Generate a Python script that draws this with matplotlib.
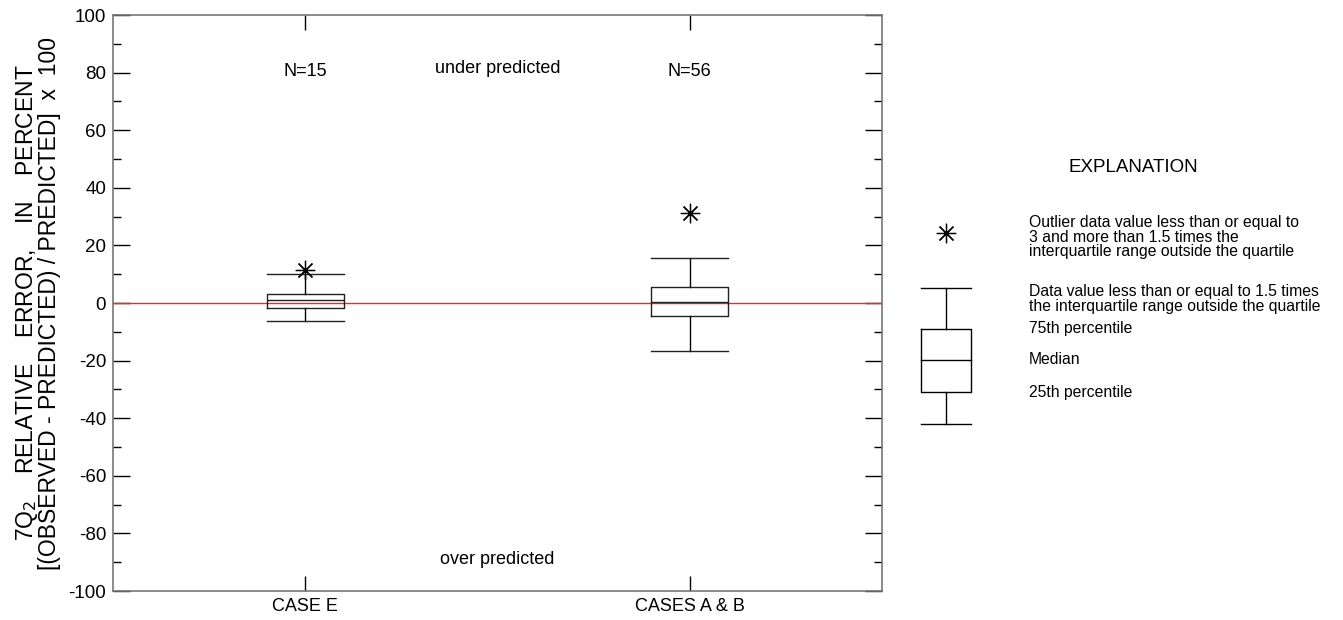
import matplotlib
matplotlib.use("Agg")
import matplotlib.pyplot as plt
from matplotlib.ticker import MultipleLocator

plt.rcParams['font.family'] = ['Liberation Sans', 'DejaVu Sans']
plt.rcParams['axes.unicode_minus'] = False

# ---- data ----
categories = ["CASE E", "CASES A & B"]
counts = [15, 56]
whisker_low = [-6.3, -16.6]
q1 = [-1.8, -4.4]
median = [1.2, 0.4]
q3 = [3.0, 5.6]
whisker_high = [10.0, 15.6]
outliers = [[11.4], [31.2]]

# explanation (legend) sketch box, expressed on the main y scale
leg_whislo, leg_q1, leg_med, leg_q3, leg_whishi = -42.5, -31.2, -20.1, -9.3, 5.0
leg_outlier = 24.0

W, H = 13.43, 6.2
fig = plt.figure(figsize=(W, H), dpi=100)
ax = fig.add_axes([113 / 1343, 29 / 620, 769 / 1343, 576 / 620])

positions = [1, 3]
stats = []
for i, c in enumerate(categories):
    stats.append(dict(label=c, whislo=whisker_low[i], q1=q1[i], med=median[i],
                      q3=q3[i], whishi=whisker_high[i], fliers=outliers[i]))

lc = '#222222'
ax.bxp(stats, positions=positions, widths=0.4, capwidths=0.4,
       boxprops=dict(color=lc, lw=1.0),
       whiskerprops=dict(color='black', lw=1.0),
       capprops=dict(color=lc, lw=1.0),
       medianprops=dict(color=lc, lw=1.0),
       flierprops=dict(marker=(8, 2, 0), markersize=14, markeredgecolor='black',
                       markerfacecolor='none', markeredgewidth=0.9, linestyle='none'),
       zorder=3)

ax.axhline(0, color='#ff2020', lw=1.0, zorder=2)

ax.set_xlim(0, 4)
ax.set_ylim(-100, 100)
ax.set_xticks(positions)
ax.set_xticklabels(categories, fontsize=13)
ax.yaxis.set_major_locator(MultipleLocator(20))
ax.yaxis.set_minor_locator(MultipleLocator(10))
ax.tick_params(axis='y', which='major', direction='in', length=12, width=1,
               labelsize=13.5, left=True, right=True, pad=5, colors='black')
ax.tick_params(axis='y', which='minor', direction='in', length=6, width=1,
               left=True, right=True)
ax.tick_params(axis='x', which='major', direction='in', length=11, width=1,
               top=True, bottom=True, pad=5)
for s in ax.spines.values():
    s.set_color('#777777')
    s.set_linewidth(1.2)

ax.set_ylabel("7Q$_2$    RELATIVE    ERROR,    IN    PERCENT\n[(OBSERVED - PREDICTED) / PREDICTED]  x  100",
              fontsize=16.5, linespacing=0.92, labelpad=5)

for i, n in enumerate(counts):
    ax.text(positions[i], 80.5, f"N={n}", ha='center', va='center', fontsize=13)
ax.text(2, 81.5, "under predicted", ha='center', va='center', fontsize=13)
ax.text(2, -89, "over predicted", ha='center', va='center', fontsize=13)

# ---- explanation panel ----
lax = fig.add_axes([0, 0, 1, 1], facecolor='none')
lax.set_xlim(0, W * 100)
lax.set_ylim(H * 100, 0)
lax.axis('off')

# same vertical scale as the main axes (pixel rows)
def ly(v):
    return 302 - v * 2.88

bx0, bx1, bxc = 921, 971, 946
lax.plot([bx0, bx1], [ly(leg_whishi)] * 2, color='black', lw=1)
lax.plot([bxc, bxc], [ly(leg_whishi), ly(leg_q3)], color='black', lw=1)
lax.plot([bx0, bx1, bx1, bx0, bx0],
         [ly(leg_q3), ly(leg_q3), ly(leg_q1), ly(leg_q1), ly(leg_q3)], color='black', lw=1)
lax.plot([bx0, bx1], [ly(leg_med)] * 2, color='black', lw=1)
lax.plot([bxc, bxc], [ly(leg_q1), ly(leg_whislo)], color='black', lw=1)
lax.plot([bx0, bx1], [ly(leg_whislo)] * 2, color='black', lw=1)
lax.plot([bxc], [ly(leg_outlier)], marker=(8, 2, 0), markersize=14,
         markeredgecolor='black', markeredgewidth=0.9, linestyle='none')

lax.text(1133, 168, "EXPLANATION", ha='center', va='center', fontsize=13.5)
tx = 1029
fs = 11.3
lax.text(tx, 237, "Outlier data value less than or equal to\n3 and more than 1.5 times the\n"
         "interquartile range outside the quartile", ha='left', va='center',
         fontsize=fs, linespacing=0.92)
lax.text(tx, 299, "Data value less than or equal to 1.5 times\n"
         "the interquartile range outside the quartile", ha='left', va='center',
         fontsize=fs, linespacing=0.92)
lax.text(tx, 329, "75th percentile", ha='left', va='center', fontsize=fs)
lax.text(tx, 360, "Median", ha='left', va='center', fontsize=fs)
lax.text(tx, 392, "25th percentile", ha='left', va='center', fontsize=fs)

fig.savefig("out.png", dpi=100)
